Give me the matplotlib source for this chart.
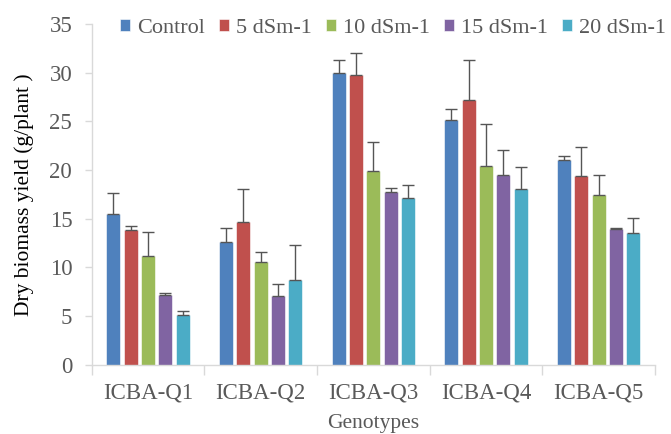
import numpy as np
import matplotlib.pyplot as plt

genotypes = ["ICBA-Q1", "ICBA-Q2", "ICBA-Q3", "ICBA-Q4", "ICBA-Q5"]
series = ["Control", "5 dSm-1", "10 dSm-1", "15 dSm-1", "20 dSm-1"]

control = [15.5, 12.6, 30.0, 25.1, 21.0]
ds5 = [13.8, 14.7, 29.8, 27.2, 19.4]
ds10 = [11.2, 10.6, 19.9, 20.4, 17.4]
ds15 = [7.2, 7.1, 17.7, 19.5, 13.9]
ds20 = [5.1, 8.7, 17.1, 18.1, 13.5]

err_control = [2.1, 1.5, 1.3, 1.2, 0.45]
err_ds5 = [0.45, 3.4, 2.2, 4.1, 3.0]
err_ds10 = [2.4, 1.0, 3.0, 4.3, 2.1]
err_ds15 = [0.2, 1.2, 0.45, 2.6, 0.2]
err_ds20 = [0.45, 3.6, 1.4, 2.2, 1.6]

values = [control, ds5, ds10, ds15, ds20]
errors = [err_control, err_ds5, err_ds10, err_ds15, err_ds20]
colors = ["#4F81BD", "#C0504D", "#9BBB59", "#8064A2", "#4BACC6"]

plt.rcParams['font.family'] = ['Liberation Serif', 'DejaVu Serif']

fig = plt.figure(figsize=(6.71, 4.34), dpi=100)
ax = fig.add_axes([0.1366, 0.1595, 0.8395, 0.785])

x = np.arange(len(genotypes))
step = 0.1535
for i in range(len(series)):
    pos = x + (i - 2) * step
    ax.bar(pos, values[i], width=0.125, color=colors[i], label=series[i],
           edgecolor='white', linewidth=0.4, zorder=2)
    ax.errorbar(pos, values[i], yerr=[np.zeros(len(x)), errors[i]], fmt='none',
                ecolor='#555555', elinewidth=1, capsize=4, capthick=1, zorder=3)

ax.set_xlim(-0.5, 4.5)
ax.set_ylim(0, 35)
ax.set_yticks(range(0, 36, 5))
ax.set_xticks(x)
ax.set_xticklabels(genotypes)
ax.set_xticks(np.arange(-0.5, 5, 1), minor=True)

for s in ['top', 'right']:
    ax.spines[s].set_visible(False)
for s in ['left', 'bottom']:
    ax.spines[s].set_color('#D9D9D9')
    ax.spines[s].set_linewidth(1)

ax.tick_params(axis='y', colors='#D9D9D9', labelcolor='#595959', labelsize=16.5,
               length=5, width=1, pad=9)
ax.tick_params(axis='x', which='major', length=0, labelcolor='#595959',
               labelsize=16.5, pad=13)
ax.tick_params(axis='x', which='minor', colors='#D9D9D9', length=7, width=1)

ax.set_ylabel("Dry biomass yield (g/plant )", fontsize=15.5, color='black', labelpad=11)
ax.set_xlabel("Genotypes", fontsize=15.5, color='#595959', labelpad=7)

ax.legend(loc='center', bbox_to_anchor=(0.535, 0.988), ncol=5, frameon=False,
          fontsize=16, handlelength=0.45, handleheight=0.45, handletextpad=0.3,
          columnspacing=0.65, borderpad=0, labelcolor='#595959')

plt.savefig("out.png", dpi=100)
